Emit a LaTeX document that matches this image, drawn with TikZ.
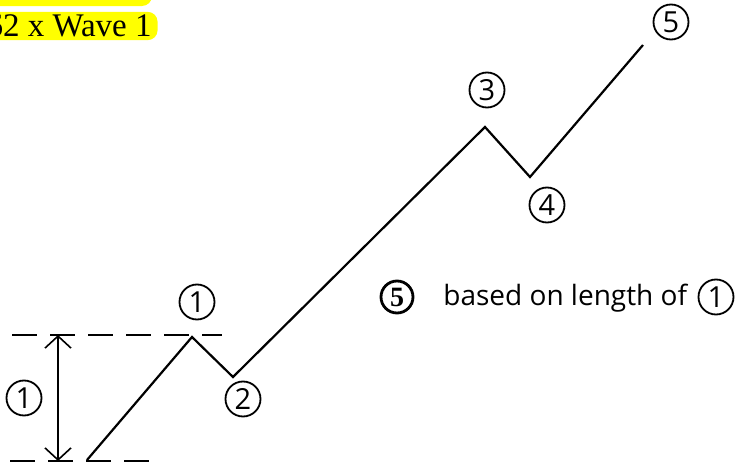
\documentclass[tikz,border=0pt]{standalone}
\usepackage{fontspec}
\setmainfont{Liberation Serif}
\newfontfamily\handfont{Open Sans}
\usetikzlibrary{arrows.meta, positioning}
\definecolor{wYellow}{RGB}{255, 255, 0}

\begin{document}
\begin{tikzpicture}[x=0.5pt, y=-0.5pt,
    wavenum/.style={draw, circle, line width=0.9pt, inner sep=0pt, minimum size=17.5pt,
                    font=\handfont\fontsize{14.5}{14.5}\selectfont},
    guide/.style={dash pattern=on 12.5pt off 6.5pt, line width=0.8pt}]
    \useasboundingbox (0, 0) rectangle (735, 466);
    \clip (0, 0) rectangle (735, 466);
    % yellow labels, cut at the top edge
    \fill[wYellow, rounded corners=5pt] (-30, -30) rectangle (152, 6);
    \node[fill=wYellow, rounded corners=5pt, anchor=east, inner xsep=3pt, inner ysep=1.5pt,
          font=\fontsize{16.5}{16.5}\selectfont] (ratio) at (158, 26) {62 x Wave 1};
    % wave points
    \coordinate (w0) at (87, 460);
    \coordinate (w1) at (192, 337);
    \coordinate (w2) at (233, 377);
    \coordinate (w3) at (485, 127);
    \coordinate (w4) at (530, 177);
    \coordinate (w5) at (643, 45);
    \draw[line width=1.1pt, line join=miter] (w0) -- (w1) -- (w2) -- (w3) -- (w4) -- (w5);
    \node[wavenum] (n1) at (197, 302) {1};
    \node[wavenum] (n2) at (243, 399) {2};
    \node[wavenum] (n3) at (487, 90) {3};
    \node[wavenum] (n4) at (547, 205) {4};
    \node[wavenum] (n5) at (671, 22) {5};
    % length of wave 1
    \coordinate (topL) at (12, 335);
    \coordinate (topR) at (222, 335);
    \coordinate (botL) at (10, 461);
    \coordinate (botR) at (157, 461);
    \draw[guide] (topL) -- (topR);
    \draw[guide] (botL) -- (botR);
    \coordinate (aTop) at (58, 335);
    \coordinate (aBot) at (58, 461);
    \draw[line width=0.8pt, {Straight Barb[length=6pt, width=13pt]}-{Straight Barb[length=6pt, width=13pt]}]
      (aTop) -- (aBot);
    \node[wavenum] (len1) at (24, 398) {1};
    % note
    \node[draw, circle, line width=1.4pt, inner sep=0pt, minimum size=16pt,
          font=\bfseries\fontsize{14}{14}\selectfont] (note5) at (397, 297) {5};
    \node[anchor=west, inner sep=0pt, font=\handfont\fontsize{14}{14}\selectfont]
      (note) at (443, 298) {based on length of};
    \node[wavenum] (note1) at (716, 297) {1};
  \end{tikzpicture}
\end{document}
